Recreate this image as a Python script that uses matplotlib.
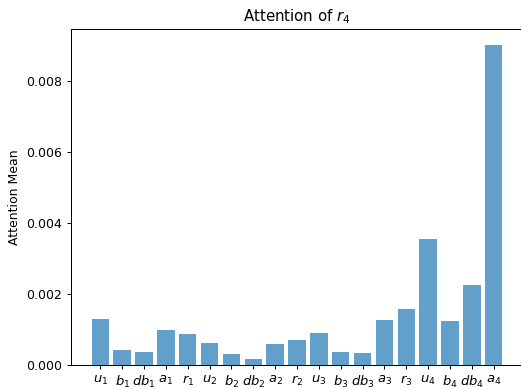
import matplotlib
matplotlib.use("Agg")
import matplotlib.pyplot as plt

labels = [r"$u_1$", r"$b_1$", r"$db_1$", r"$a_1$", r"$r_1$",
          r"$u_2$", r"$b_2$", r"$db_2$", r"$a_2$", r"$r_2$",
          r"$u_3$", r"$b_3$", r"$db_3$", r"$a_3$", r"$r_3$",
          r"$u_4$", r"$b_4$", r"$db_4$", r"$a_4$"]
values = [0.001306, 0.000435, 0.00038, 0.000997, 0.000876,
          0.000612, 0.000303, 0.000183, 0.000585, 0.000716,
          0.000893, 0.00038, 0.000332, 0.00128, 0.00159,
          0.00356, 0.00125, 0.00225, 0.00902]

DPI = 90
fig = plt.figure(figsize=(521/DPI, 389/DPI), dpi=DPI)
ax = fig.add_axes([71/521, 24/389, 452/521, 336/389])
x = list(range(len(labels)))
ax.bar(x, values, color="C0", alpha=0.7)
ax.set_xticks(x)
ax.set_xticklabels(labels, fontsize=10.5)
ax.set_ylabel("Attention Mean")
ax.set_title(r"Attention of $r_4$")
ax.spines["right"].set_visible(False)
fig.savefig("out.png", dpi=DPI)
